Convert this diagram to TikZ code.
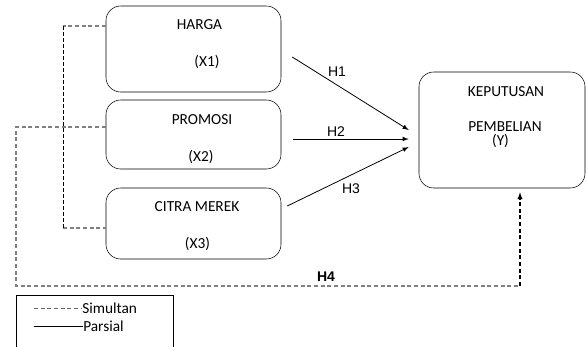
\documentclass[tikz,border=0pt]{standalone}
\usepackage{fontspec}
\setmainfont{Carlito}
\newfontfamily\arialfont{Liberation Sans}
\usepackage{tikz}
\usetikzlibrary{arrows,positioning,calc}

\begin{document}
\begin{tikzpicture}[x=0.75pt, y=-0.75pt,
    var/.style={draw, rounded corners=11pt, minimum width=131.25pt, inner sep=0pt},
    txt/.style={font=\fontsize{11.5}{13}\selectfont, inner sep=0pt},
    hlab/.style={font=\arialfont\fontsize{10.5}{12}\selectfont, inner sep=0pt},
    simul/.style={draw=gray, dashed, dash pattern=on 3pt off 2pt, thick},
    parsial/.style={draw, -latex, semithick}]
    \useasboundingbox (0,0) rectangle (587,347);

    % variabel
    \node[var, minimum height=64.5pt] (harga) at (193.5,49) {};
    \node[var, minimum height=51.75pt] (promosi) at (193.5,134.5) {};
    \node[var, minimum height=53.25pt] (citra) at (193.5,223.5) {};
    \node[var, minimum width=124.5pt, minimum height=87pt] (keputusan) at (502,130) {};

    \node[txt] (t1) at (199.5,25) {HARGA};
    \node[txt] (t1x) at (207,62) {(X1)};
    \node[txt] (t2) at (202,119.5) {PROMOSI};
    \node[txt] (t2x) at (201,157) {(X2)};
    \node[txt] (t3) at (197,207) {CITRA MEREK};
    \node[txt] (t3x) at (197.5,244) {(X3)};
    \node[txt] (ty1) at (506,92) {KEPUTUSAN};
    \node[txt] (ty2) at (505,127) {PEMBELIAN};
    \node[txt] (ty3) at (500.5,141) {(Y)};

    % parsial
    \draw[parsial] ($(harga.east)+(11,8)$) -- ($(keputusan.west)+(-10,0)$);
    \draw[parsial] ($(promosi.east)+(12,4.5)$) -- ($(keputusan.west)+(-10,9)$);
    \draw[parsial] ($(citra.east)+(6,-17.5)$) -- ($(keputusan.west)+(-10,17)$);
    \node[hlab] (h1) at (337,71.5) {H1};
    \node[hlab] (h2) at (336,132) {H2};
    \node[hlab] (h3) at (351,188.5) {H3};

    % simultan
    \coordinate (s1) at (63,26);
    \coordinate (s2) at (63,228);
    \draw[simul] ($(harga.west)+(0,-23)$) -- (s1);
    \draw[simul] (s2) -- ($(citra.west)+(0,4.5)$);
    \draw[dashed, dash pattern=on 3pt off 1.5pt, semithick] (s1) -- (s2);
    \coordinate (c1) at (16,127);
    \coordinate (c2) at (16,286);
    \draw[simul] ($(promosi.west)+(0,-7.5)$) -- (c1) -- (c2) -- (c2 -| 520,0);
    \draw[dashed, dash pattern=on 3pt off 2pt, thick, -latex] (c2 -| 520,0) -- ($(keputusan.south)+(18,4)$);
    \node[hlab, font=\arialfont\bfseries\fontsize{10.5}{12}\selectfont] (h4) at (326,277) {H4};

    % keterangan
    \node[draw, minimum width=117.75pt, minimum height=42pt, inner sep=0pt] (legend) at (94.5,323) {};
    \coordinate (l1) at (34,308);
    \coordinate (l2) at (34,326);
    \draw[simul, thin, draw=gray!80!black] (l1) -- ++(48,0) coordinate (l1e);
    \draw[semithick] (l2) -- ++(49,0) coordinate (l2e);
    \node[txt, anchor=west] (sim) at (l1e) {Simultan};
    \node[txt, anchor=west] (par) at (l2e) {Parsial};
\end{tikzpicture}
\end{document}
